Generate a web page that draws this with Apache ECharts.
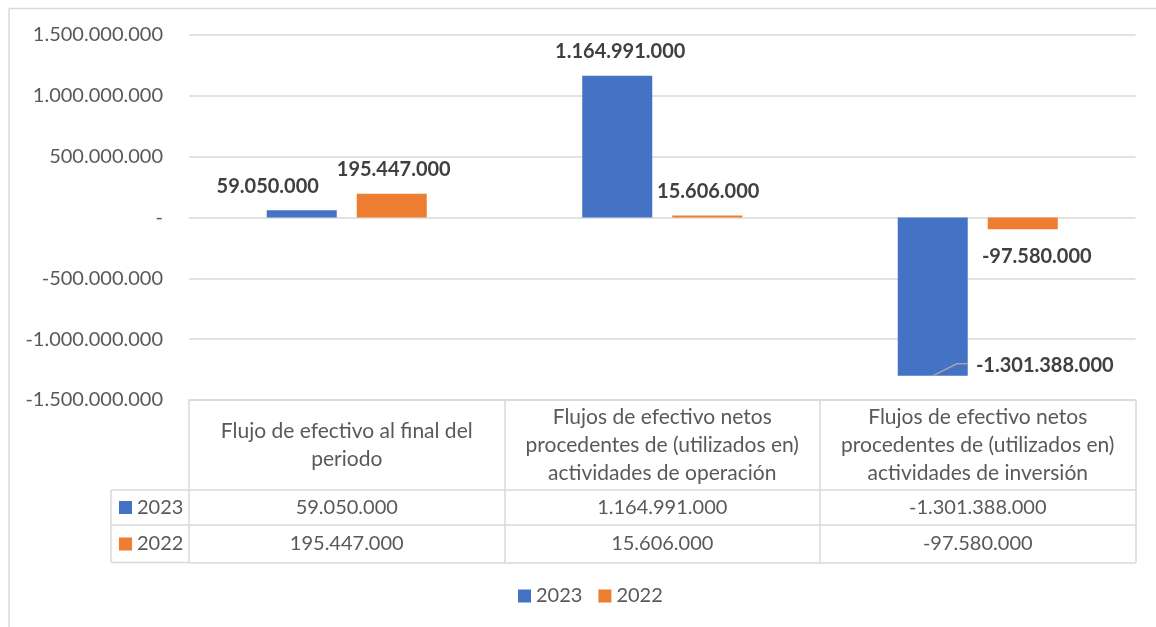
<!DOCTYPE html>
<html>
<head>
<meta charset="utf-8">
<script src="https://cdn.jsdelivr.net/npm/echarts@6/dist/echarts.min.js"></script>
<style>
  html, body { margin: 0; padding: 0; background: #fff; }
  #chart { width: 1156px; height: 627px; }
</style>
</head>
<body>
<div id="chart"></div>
<script>
// Cash-flow figures (pesos) by concept and year
const categories = [
  'Flujo de efectivo al final del\nperiodo',
  'Flujos de efectivo netos\nprocedentes de (utilizados en)\nactividades de operación',
  'Flujos de efectivo netos\nprocedentes de (utilizados en)\nactividades de inversión'
];
const seriesNames = ['2023', '2022'];
const values2023 = [59050000, 1164991000, -1301388000];
const values2022 = [195447000, 15606000, -97580000];
const axisMin = -1500000000;
const axisMax = 1500000000;
const axisStep = 500000000;

const FONT = 'Lato';
const BLUE = '#4472C4';
const ORANGE = '#ED7D31';
const GRID_COLOR = '#d9d9d9';
const TEXT_COLOR = '#595959';
const LEADER_COLOR = '#a6a6a6';

// Thousands with dots, zero shown as a dash
function fmt(v) {
  if (v === 0) return '-';
  const s = Math.abs(v).toString().replace(/\B(?=(\d{3})+(?!\d))/g, '.');
  return (v < 0 ? '-' : '') + s;
}

// Hand-placed label nudges per bar, [dx, dy]
const shift2023 = [[-34, -9], [3, -9.5], [112, -25.5]];
const shift2022 = [[2, -9], [1, -8.6], [14, 12]];
// the far-off label of the big negative bar gets a leader line
const leaderIndex2023 = 2;

function barData(values) {
  return values.map(v => ({
    value: v,
    label: { position: v < 0 ? 'bottom' : 'top' }
  }));
}

function nudge(shifts) {
  return p => ({ dx: shifts[p.dataIndex][0], dy: shifts[p.dataIndex][1] });
}

const chart = echarts.init(document.getElementById('chart'));

const labelStyle = {
  show: true,
  formatter: p => fmt(p.value),
  fontFamily: FONT,
  fontSize: 20,
  fontWeight: 'bold',
  color: '#404040',
  distance: 5
};

const legendText = { fontFamily: FONT, fontSize: 20, color: TEXT_COLOR };

const tableAxisBase = {
  type: 'category',
  gridIndex: 0,
  position: 'bottom',
  axisLine: { show: true, onZero: false, lineStyle: { color: GRID_COLOR, width: 1.5 } },
  axisTick: { show: false },
  splitLine: { show: false }
};

const frameLines = [
  // chart frame (top and left edges)
  { type: 'line', shape: { x1: 9, y1: 8.5, x2: 1156, y2: 8.5 }, style: { stroke: GRID_COLOR, lineWidth: 1.5 } },
  { type: 'line', shape: { x1: 9, y1: 8.5, x2: 9, y2: 627 }, style: { stroke: GRID_COLOR, lineWidth: 1.5 } },
  // series-key column of the data table
  { type: 'line', shape: { x1: 111, y1: 490, x2: 189, y2: 490 }, style: { stroke: GRID_COLOR, lineWidth: 1.5 } },
  { type: 'line', shape: { x1: 111, y1: 525, x2: 189, y2: 525 }, style: { stroke: GRID_COLOR, lineWidth: 1.5 } },
  { type: 'line', shape: { x1: 111, y1: 562.5, x2: 189, y2: 562.5 }, style: { stroke: GRID_COLOR, lineWidth: 1.5 } },
  { type: 'line', shape: { x1: 111, y1: 490, x2: 111, y2: 562.5 }, style: { stroke: GRID_COLOR, lineWidth: 1.5 } }
];

chart.setOption({
  animation: false,
  backgroundColor: '#fff',
  textStyle: { fontFamily: FONT },
  grid: { left: 189, right: 20.5, top: 35, bottom: 227, containLabel: false },
  legend: [
    {
      data: seriesNames,
      left: 518,
      top: 586,
      padding: 0,
      itemWidth: 13,
      itemHeight: 13,
      itemGap: 16,
      icon: 'rect',
      selectedMode: false,
      textStyle: legendText
    },
    {
      data: seriesNames,
      orient: 'vertical',
      left: 119,
      top: 497.5,
      padding: 0,
      itemWidth: 13,
      itemHeight: 13,
      itemGap: 16.5,
      icon: 'rect',
      selectedMode: false,
      textStyle: legendText
    }
  ],
  xAxis: [
    {
      type: 'category',
      data: categories,
      position: 'bottom',
      axisLine: { show: true, onZero: false, lineStyle: { color: GRID_COLOR, width: 1.5 } },
      axisTick: { show: true, alignWithLabel: false, length: 162.5, lineStyle: { color: GRID_COLOR, width: 1.5 } },
      axisLabel: {
        interval: 0,
        margin: 45,
        verticalAlign: 'middle',
        lineHeight: 28,
        fontFamily: FONT,
        fontSize: 21,
        color: TEXT_COLOR
      }
    },
    Object.assign({}, tableAxisBase, {
      data: values2023.map(fmt),
      offset: 90,
      axisLabel: { interval: 0, margin: 17.5, verticalAlign: 'middle', fontFamily: FONT, fontSize: 20, color: TEXT_COLOR }
    }),
    Object.assign({}, tableAxisBase, {
      data: values2022.map(fmt),
      offset: 125,
      axisLabel: { interval: 0, margin: 19, verticalAlign: 'middle', fontFamily: FONT, fontSize: 20, color: TEXT_COLOR }
    }),
    Object.assign({}, tableAxisBase, {
      data: categories,
      offset: 162.5,
      axisLabel: { show: false }
    })
  ],
  yAxis: {
    type: 'value',
    min: axisMin,
    max: axisMax,
    interval: axisStep,
    axisLine: { show: false },
    axisTick: { show: false },
    splitLine: { lineStyle: { color: GRID_COLOR, width: 1.5 } },
    axisLabel: {
      formatter: fmt,
      margin: 26,
      fontFamily: FONT,
      fontSize: 20,
      color: TEXT_COLOR
    }
  },
  series: [
    {
      name: seriesNames[0],
      type: 'bar',
      barWidth: 70,
      barGap: '28.6%',
      itemStyle: { color: BLUE },
      data: barData(values2023),
      label: labelStyle,
      labelLayout: nudge(shift2023)
    },
    {
      name: seriesNames[1],
      type: 'bar',
      barWidth: 70,
      barGap: '28.6%',
      itemStyle: { color: ORANGE },
      data: barData(values2022),
      label: labelStyle,
      labelLayout: nudge(shift2022)
    }
  ],
  graphic: frameLines
});

// Leader line from the bottom of the big negative bar to its label,
// anchored on the bar rectangle that the series laid out.
(function drawLeader() {
  const layout = chart.getModel().getSeriesByIndex(0).getData().getItemLayout(leaderIndex2023);
  if (!layout) return;
  const left = Math.min(layout.x, layout.x + layout.width);
  const right = Math.max(layout.x, layout.x + layout.width);
  const bottom = Math.max(layout.y, layout.y + layout.height);
  const cx = (left + right) / 2;
  chart.setOption({
    graphic: frameLines.concat([{
      type: 'polyline',
      z: 100,
      shape: { points: [[cx, bottom], [right - 11, bottom - 12], [right, bottom - 12]] },
      style: { stroke: LEADER_COLOR, lineWidth: 1.5, fill: null }
    }])
  });
})();
</script>
</body>
</html>
